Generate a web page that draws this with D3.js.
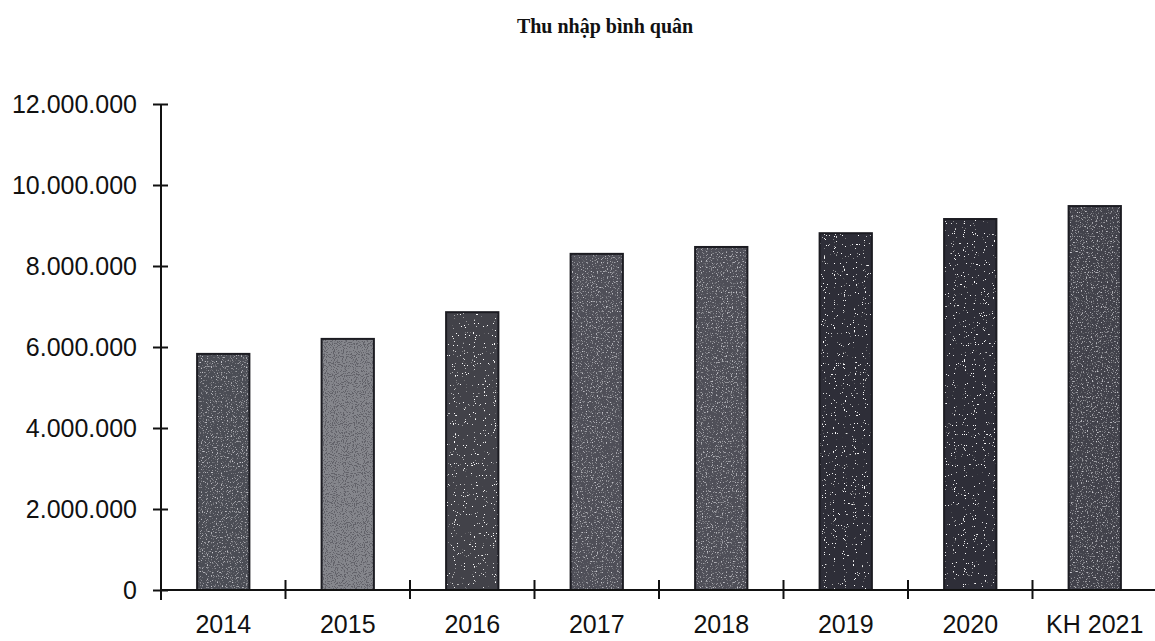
<!DOCTYPE html>
<html>
<head>
<meta charset="utf-8">
<script src="https://cdn.jsdelivr.net/npm/d3@7"></script>
<style>
  body { margin: 0; background: #fff; }
  svg { display: block; }
  .tick text { font-family: "Liberation Sans", Arial, sans-serif; fill: #111; }
</style>
</head>
<body>
<div id="chart"></div>
<script>
var years = ["2014", "2015", "2016", "2017", "2018", "2019", "2020", "KH 2021"],
    income = [5830000, 6200000, 6860000, 8300000, 8470000, 8810000, 9160000, 9480000],
    yTicks = [0, 2000000, 4000000, 6000000, 8000000, 10000000, 12000000];

// bar looks (fill colour + speckle filter), one per bar
var barFill = ["#4c4d55", "#85868c", "#42434a", "#4f5058", "#4f5058", "#2e2f37", "#2e2f37", "#42434b"],
    barSpeck = ["grain", "grainDark", "speckWhite", "grain", "grain", "speckWhite", "speckWhite", "grain"];

var width = 1155, height = 641,
    plotLeft = 161, plotRight = 1157, plotTop = 104, plotBottom = 590;

var svg = d3.select("#chart").append("svg")
    .attr("width", width)
    .attr("height", height);

svg.append("rect").attr("width", width).attr("height", height).attr("fill", "#fff");

var defs = svg.append("defs");

function addFilter(id, freq, seed, matrix) {
  var f = defs.append("filter").attr("id", id)
      .attr("x", "0").attr("y", "0").attr("width", "1").attr("height", "1");
  f.append("feTurbulence")
      .attr("type", "fractalNoise")
      .attr("baseFrequency", freq)
      .attr("numOctaves", 1)
      .attr("seed", seed)
      .attr("result", "noise");
  f.append("feColorMatrix")
      .attr("in", "noise")
      .attr("type", "matrix")
      .attr("values", matrix)
      .attr("result", "dots");
  f.append("feComposite")
      .attr("in", "dots")
      .attr("in2", "SourceGraphic")
      .attr("operator", "atop");
}
// white specks where noise is high
addFilter("speckWhite", 0.9, 4, "0 0 0 0 1  0 0 0 0 1  0 0 0 0 1  22 0 0 0 -15");
// fine grain, close to the fill
addFilter("grain", 0.8, 7, "0 0 0 0 0.6  0 0 0 0 0.6  0 0 0 0 0.64  5 0 0 0 -2.9");
// dark grain on the lighter bar
addFilter("grainDark", 0.9, 9, "0 0 0 0 0.12  0 0 0 0 0.12  0 0 0 0 0.14  14 0 0 0 -7.4");

var x = d3.scaleBand()
    .domain(years)
    .range([plotLeft, plotRight])
    .paddingInner(0.58)
    .paddingOuter(0.29);

var y = d3.scaleLinear()
    .domain([0, 12000000])
    .range([plotBottom, plotTop]);

var fmt = function(d) {
  return d3.format(",")(d).replace(/,/g, ".");
};

// title
svg.append("text")
    .attr("x", 605)
    .attr("y", 33)
    .attr("text-anchor", "middle")
    .style("font-family", "'Liberation Serif', 'Times New Roman', serif")
    .style("font-weight", "bold")
    .style("font-size", "20px")
    .attr("fill", "#111")
    .text("Thu nhập bình quân");

// bars
svg.append("g").selectAll("rect")
    .data(income)
    .enter().append("rect")
    .attr("x", function(d, i) { return x(years[i]); })
    .attr("width", x.bandwidth())
    .attr("y", function(d) { return y(d); })
    .attr("height", function(d) { return y(0) - y(d); })
    .attr("fill", function(d, i) { return barFill[i]; })
    .attr("filter", function(d, i) { return "url(#" + barSpeck[i] + ")"; });

svg.append("g").selectAll("rect")
    .data(income)
    .enter().append("rect")
    .attr("x", function(d, i) { return x(years[i]); })
    .attr("width", x.bandwidth())
    .attr("y", function(d) { return y(d); })
    .attr("height", function(d) { return y(0) - y(d); })
    .attr("fill", "none")
    .attr("stroke", "#1c1c22")
    .attr("stroke-width", 2);

// y axis, ticks cross the line
var yAxis = d3.axisLeft(y)
    .tickValues(yTicks)
    .tickFormat(fmt)
    .tickSize(8)
    .tickPadding(16);

var gy = svg.append("g")
    .attr("transform", "translate(" + plotLeft + ",0)")
    .call(yAxis);
gy.select(".domain").remove();
gy.selectAll(".tick line").attr("x2", -8).attr("x1", 7).attr("stroke", "#111").attr("stroke-width", 2);
gy.selectAll(".tick text").style("font-size", "25px").attr("dy", "0.35em");
gy.append("line")
    .attr("x1", 0).attr("x2", 0)
    .attr("y1", plotTop).attr("y2", plotBottom + 10)
    .attr("stroke", "#111").attr("stroke-width", 2);

// x axis: category labels, separator ticks between bands
var xAxis = d3.axisBottom(x)
    .tickSize(0)
    .tickPadding(25);

var gx = svg.append("g")
    .attr("transform", "translate(0," + plotBottom + ")")
    .call(xAxis);
gx.select(".domain").remove();
gx.selectAll(".tick text").style("font-size", "25px");
gx.append("line")
    .attr("x1", plotLeft).attr("x2", width)
    .attr("y1", 0).attr("y2", 0)
    .attr("stroke", "#111").attr("stroke-width", 2);

var step = x.step();
var seps = years.slice(1).map(function(d) { return x(d) - x.paddingInner() * step / 2; });
gx.selectAll(".sep")
    .data(seps)
    .enter().append("line")
    .attr("class", "sep")
    .attr("x1", function(d) { return d; })
    .attr("x2", function(d) { return d; })
    .attr("y1", -10).attr("y2", 9)
    .attr("stroke", "#111").attr("stroke-width", 2);
</script>
</body>
</html>
